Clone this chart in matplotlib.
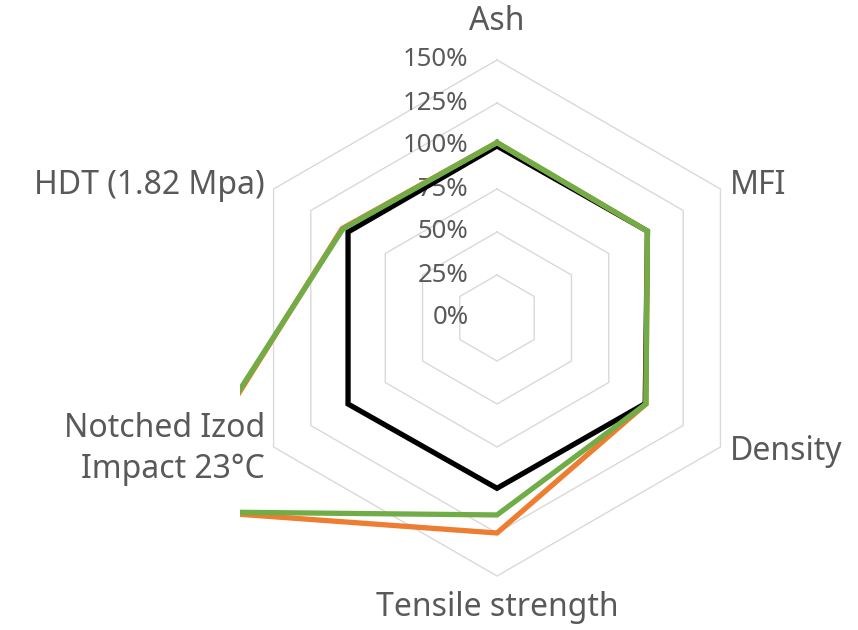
import numpy as np
import matplotlib.pyplot as plt
from matplotlib.patches import Rectangle

# categories, clockwise from the top
categories = ['Ash', 'MFI', 'Density', 'Tensile strength',
              'Notched Izod\nImpact 23°C', 'HDT (1.82 Mpa)']

# values as fraction of the reference (1.0 = 100%)
reference = [1.00, 1.01, 0.995, 0.99, 1.00, 1.00]
sample_a = [1.02, 1.01, 1.00, 1.25, 2.22, 1.04]   # orange
sample_b = [1.02, 1.01, 1.00, 1.145, 2.25, 1.035]  # green

ticks = [0, 0.25, 0.5, 0.75, 1.0, 1.25, 1.5]
tick_labels = ['0%', '25%', '50%', '75%', '100%', '125%', '150%']

grey = '#595959'
font = 'Noto Sans'

# pixel layout: center at (497, 318), 172 px per 100%
W, H = 858, 630
cx, cy, scale = 497, 318, 172

fig = plt.figure(figsize=(W / 100, H / 100), dpi=100)
ax = fig.add_axes([0, 0, 1, 1])
ax.set_xlim(-cx / scale, (W - cx) / scale)
ax.set_ylim(-(H - cy) / scale, cy / scale)
ax.axis('off')

n = len(categories)
angles = np.pi / 2 - np.arange(n) * 2 * np.pi / n


def to_xy(vals):
    vals = np.append(vals, vals[0])
    a = np.append(angles, angles[0])
    return vals * np.cos(a), vals * np.sin(a)


# grid rings
for t in ticks[1:]:
    x, y = to_xy([t] * n)
    ax.plot(x, y, color='#d9d9d9', lw=1.0, zorder=1)

# tick labels
for t, lab in zip(ticks, tick_labels):
    ax.text(-0.165, t, lab, ha='right', va='center', fontsize=18.5,
            color=grey, family=font, zorder=2)

# plot area clip (Excel clips lines outside the plot area)
clip = Rectangle(((240 - cx) / scale, -(600 - cy) / scale),
                 (754 - 240) / scale, (600 - 40) / scale,
                 transform=ax.transData, visible=False)
ax.add_patch(clip)

for vals, col in [(reference, 'black'), (sample_a, '#ED7D31'), (sample_b, '#70AD47')]:
    x, y = to_xy(vals)
    ln, = ax.plot(x, y, color=col, lw=3.8, zorder=3, solid_joinstyle='miter')
    ln.set_clip_path(clip)

# category labels
label_pos = [(497, 22, 'center'), (730, 185, 'left'), (730, 452, 'left'),
             (497, 607, 'center'), (265, 449, 'right'), (265, 185, 'right')]
for cat, (px, py, ha) in zip(categories, label_pos):
    ax.text((px - cx) / scale, (cy - py) / scale, cat, ha=ha, va='center',
            fontsize=23, color=grey, family=font, linespacing=1.3,
            multialignment='right')

fig.savefig('out.png', dpi=100)
